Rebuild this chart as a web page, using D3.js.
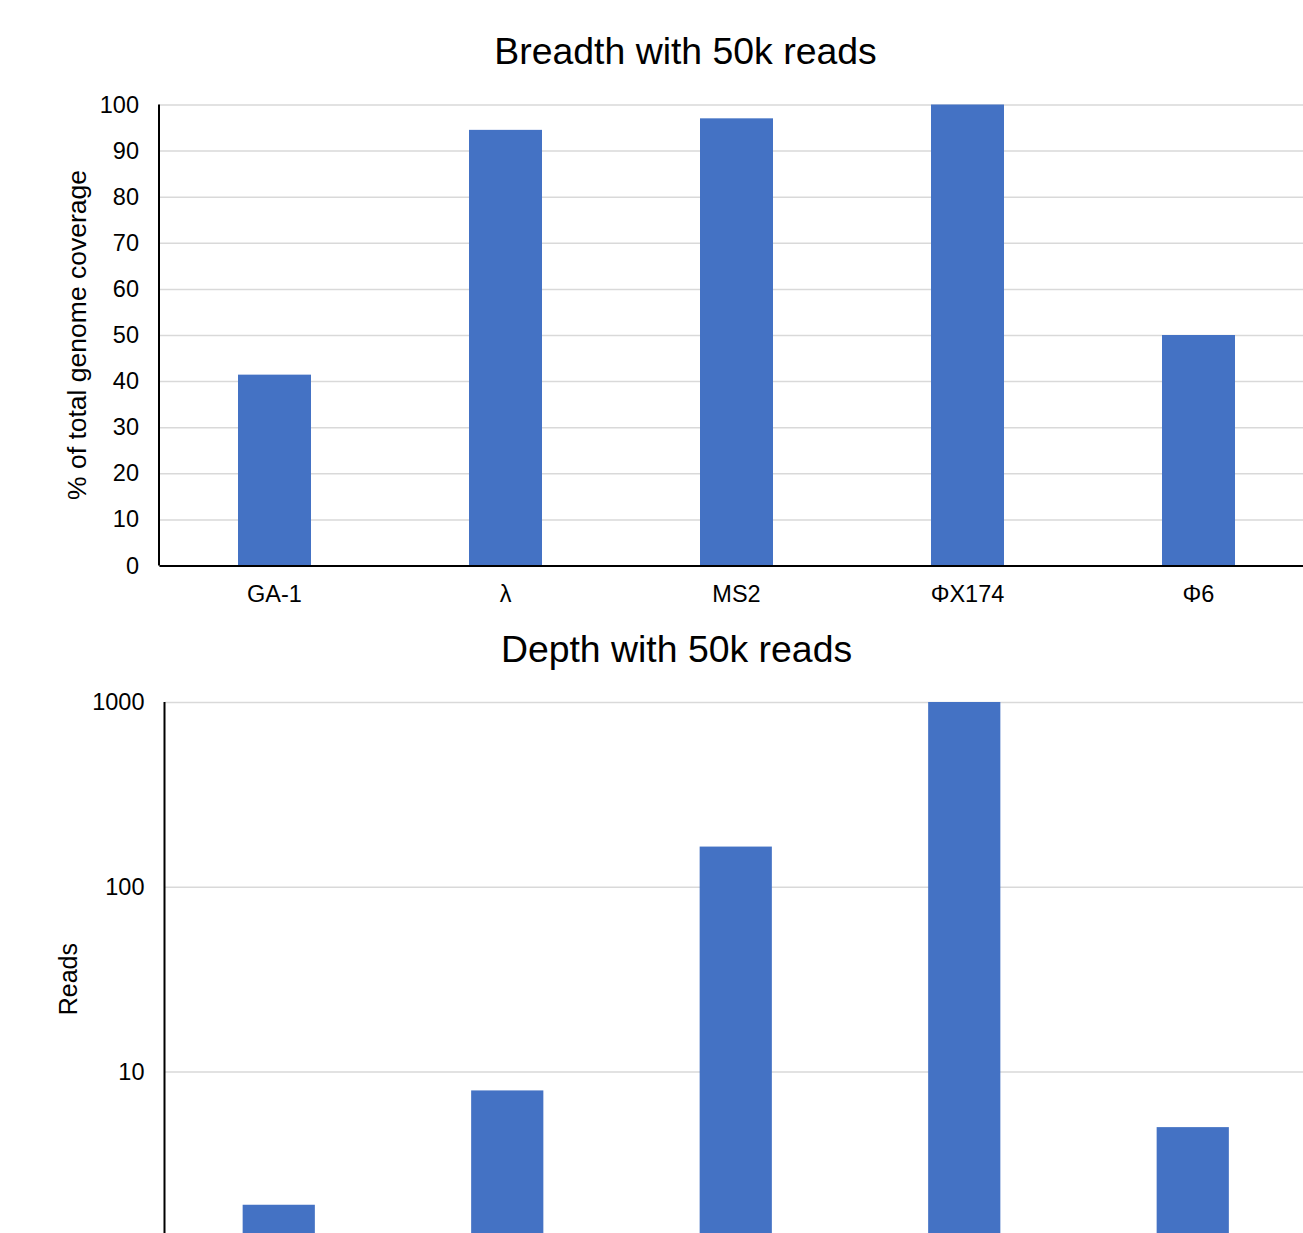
<!DOCTYPE html>
<html>
<head>
<meta charset="utf-8">
<script src="https://cdn.jsdelivr.net/npm/d3@7"></script>
<style>
  body { margin: 0; background: #fff; }
  svg { display: block; font-family: "Liberation Sans", Arial, sans-serif; }
</style>
</head>
<body>
<svg id="chart" width="1303" height="1233"></svg>
<script>
// phage categories (same for both panels)
const phages = ["GA-1", "λ", "MS2", "ΦX174", "Φ6"];

// breadth: % of total genome coverage
const breadthValues = [41.4, 94.5, 97.0, 100, 50.0];
const breadthTicks = [0, 10, 20, 30, 40, 50, 60, 70, 80, 90, 100];

// depth: reads (log scale)
const depthValues = [1.9, 7.9, 165, 1000, 5.0];
const depthTicks = [10, 100, 1000];

const BAR = "#4472c4", GRID = "#d9d9d9";
const svg = d3.select("#chart");

// ---- top panel: breadth ----
const x1 = d3.scaleBand().domain(phages).range([159, 1314])
  .paddingInner(0.684).paddingOuter(0.342);
const y1 = d3.scaleLinear().domain([0, 100]).range([565.5, 104.5]);

const gTop = svg.append("g");

gTop.append("text")
  .attr("x", 685.5).attr("y", 64)
  .attr("text-anchor", "middle")
  .style("font-size", "37.4px")
  .text("Breadth with 50k reads");

gTop.append("g")
  .attr("transform", "translate(159,0)")
  .call(d3.axisLeft(y1).tickValues(breadthTicks).tickSize(-1160).tickPadding(20))
  .call(g => g.select(".domain").remove())
  .call(g => g.selectAll(".tick line").attr("stroke", GRID).attr("stroke-width", 1.5))
  .call(g => g.selectAll(".tick text").style("font-size", "23.5px").attr("fill", "#000"));

gTop.append("g")
  .selectAll("rect")
  .data(breadthValues)
  .enter().append("rect")
  .attr("x", (d, i) => x1(phages[i]))
  .attr("width", x1.bandwidth())
  .attr("y", d => y1(d))
  .attr("height", d => y1(0) - y1(d))
  .attr("fill", BAR);

gTop.append("line")
  .attr("x1", 159).attr("x2", 159)
  .attr("y1", y1(100)).attr("y2", y1(0))
  .attr("stroke", "#000").attr("stroke-width", 2);

gTop.append("g")
  .attr("transform", `translate(0,${y1(0)})`)
  .call(d3.axisBottom(x1).tickSize(0).tickPadding(20))
  .call(g => g.select(".domain").attr("stroke", "#000").attr("stroke-width", 2))
  .call(g => g.selectAll(".tick text").style("font-size", "23.5px").attr("fill", "#000"));

gTop.append("text")
  .attr("transform", `translate(86,${(y1(0) + y1(100)) / 2}) rotate(-90)`)
  .attr("text-anchor", "middle")
  .style("font-size", "26.5px")
  .text("% of total genome coverage");

// ---- bottom panel: depth ----
const x2 = d3.scaleBand().domain(phages).range([164.5, 1307])
  .paddingInner(0.684).paddingOuter(0.342);
const y2 = d3.scaleLog().domain([1, 1000]).range([1256.25, 702]);

const gBot = svg.append("g");

gBot.append("text")
  .attr("x", 676.5).attr("y", 662)
  .attr("text-anchor", "middle")
  .style("font-size", "37.4px")
  .text("Depth with 50k reads");

gBot.append("g")
  .attr("transform", "translate(164.5,0)")
  .call(d3.axisLeft(y2).tickValues(depthTicks).tickFormat(d3.format("d")).tickSize(-1150).tickPadding(20))
  .call(g => g.select(".domain").remove())
  .call(g => g.selectAll(".tick line").attr("stroke", GRID).attr("stroke-width", 1.5))
  .call(g => g.selectAll(".tick text").style("font-size", "23.5px").attr("fill", "#000"));

gBot.append("g")
  .selectAll("rect")
  .data(depthValues)
  .enter().append("rect")
  .attr("x", (d, i) => x2(phages[i]))
  .attr("width", x2.bandwidth())
  .attr("y", d => y2(d))
  .attr("height", d => y2(1) - y2(d))
  .attr("fill", BAR);

gBot.append("line")
  .attr("x1", 164.5).attr("x2", 164.5)
  .attr("y1", y2(1000)).attr("y2", y2(1))
  .attr("stroke", "#000").attr("stroke-width", 2);

gBot.append("text")
  .attr("transform", `translate(77,${(y2(1) + y2(1000)) / 2}) rotate(-90)`)
  .attr("text-anchor", "middle")
  .style("font-size", "25px")
  .text("Reads");
</script>
</body>
</html>
